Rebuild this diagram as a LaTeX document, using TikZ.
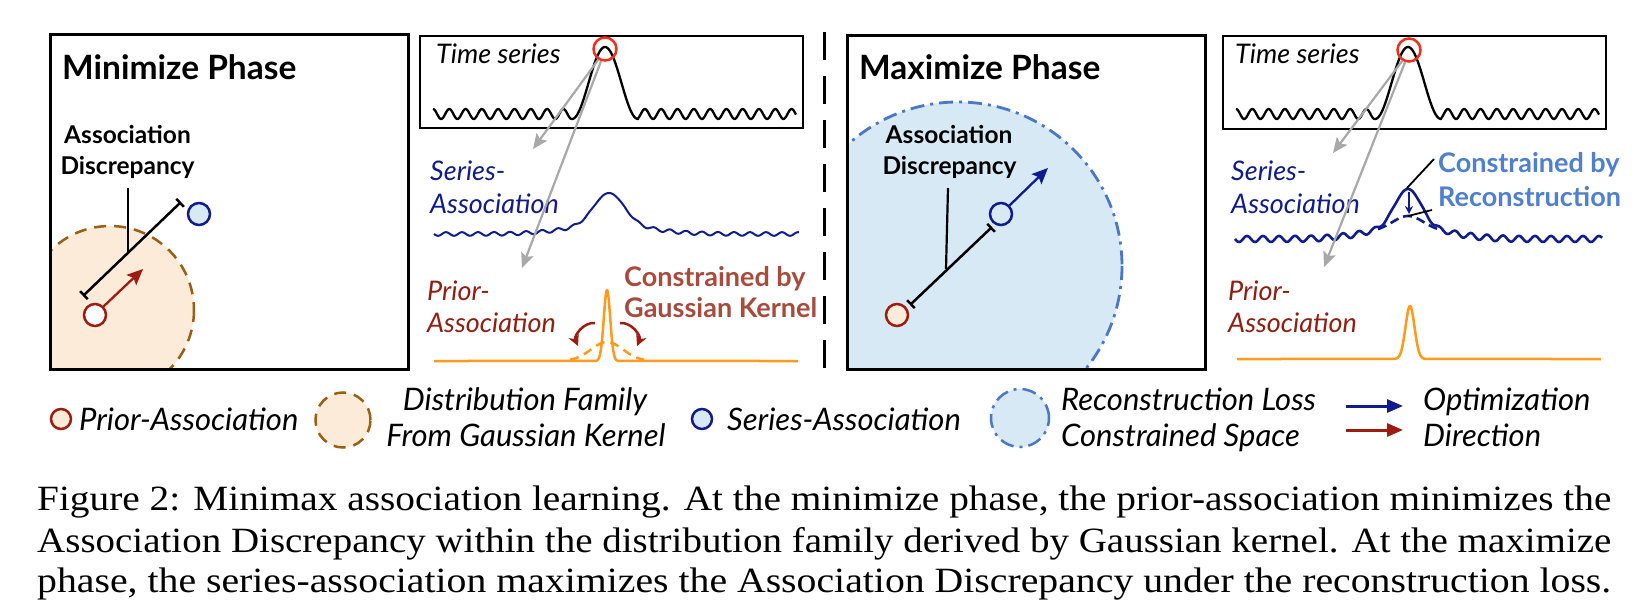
\documentclass[tikz,border=0pt]{standalone}
\usepackage{fontspec}
\usepackage{graphicx}
\setmainfont{Liberation Serif}
\newfontfamily\diag{Lato}
\usetikzlibrary{arrows.meta}
\definecolor{navy}{HTML}{101C8C}
\definecolor{dred}{HTML}{9E1B10}
\definecolor{tred}{HTML}{8E1F12}
\definecolor{lblue}{HTML}{D6E9F5}
\definecolor{peach}{HTML}{FCEBD9}
\definecolor{brownd}{HTML}{9A5F14}
\definecolor{dashblue}{HTML}{4A78C8}
\definecolor{orng}{HTML}{FF9A1A}
\definecolor{tsred}{HTML}{F0301A}
\definecolor{kred}{HTML}{A94B3C}
\definecolor{rblue}{HTML}{4F7FCF}
\definecolor{gry}{HTML}{A8A8A8}
\tikzset{
  declare function={gs(\t,\m,\s)=exp(-min(((\t-\m)/\s)^2/2,9));},
  phasebox/.style={draw=black,line width=3pt},
  tsbox/.style={draw=black,line width=2pt},
  phasetitle/.style={inner sep=0pt,anchor=base west,font=\diag\bfseries\fontsize{33.5}{38}\selectfont},
  adlbl/.style={inner sep=0pt,anchor=base,font=\diag\bfseries\fontsize{24.5}{28}\selectfont},
  itl/.style={inner sep=0pt,anchor=base west,font=\diag\itshape\fontsize{27}{31}\selectfont},
  cons/.style={inner sep=0pt,anchor=base west,font=\diag\bfseries\fontsize{27}{31}\selectfont},
  leg/.style={inner sep=0pt,anchor=base west,font=\diag\itshape\fontsize{31}{35}\selectfont},
  captext/.style={inner sep=0pt,anchor=base west,font=\fontsize{35.5}{40}\selectfont},
  graya/.style={draw=gry,line width=2.2pt,-{Stealth[length=15pt,width=13pt,inset=3pt]}},
  dbar/.style={line width=2.5pt,{Bar[width=11pt]}-{Bar[width=11pt]}},
  ptr/.style={line width=2.2pt},
  assocdot/.style={circle,inner sep=0pt,minimum size=22pt,line width=2.5pt},
  legdot/.style={circle,inner sep=0pt,minimum size=20pt,line width=2.5pt},
  bigleg/.style={circle,inner sep=0pt,line width=2.5pt},
  tsline/.style={line width=2.3pt,line join=round},
  kdash/.style={dash pattern=on 12pt off 8pt},
  rdash/.style={dash pattern=on 14pt off 6pt on 3pt off 6pt},
}
\newcommand{\capline}[1]{\resizebox{1574pt}{\height}{#1}}
\begin{document}
\begin{tikzpicture}[x=1pt,y=-1pt]
\useasboundingbox (0,0) rectangle (1647,615);
\fill[white] (0,0) rectangle (1647,615);

% ================= Minimize phase =================
\begin{scope}
  \clip (50,35) rectangle (408,369);
  \fill[peach] (110,310) circle (84);
  \draw[brownd,line width=2.5pt,kdash] (110,310) circle (84);
\end{scope}
\draw[phasebox] (50,35) rectangle (408,369);
\node[phasetitle] (mint) at (62,80) {Minimize Phase};
\node[adlbl] (mina1) at (127.5,144) {Association};
\node[adlbl] (mina2) at (127.5,175) {Discrepancy};
\coordinate (mind1) at (83,296);
\coordinate (mind2) at (181,202);
\draw[dbar] (mind1) -- (mind2);
\coordinate (minp1) at (128,188);
\coordinate (minp2) at (128,252);
\draw[ptr] (minp1) -- (minp2);
\node[assocdot,draw=navy,fill=lblue] (minser) at (199,214) {};
\node[assocdot,draw=dred,fill=white] (minpri) at (95,315) {};
\coordinate (minarr) at (143,269);
\draw[dred,line width=2.3pt,-{Stealth[length=16pt,width=14pt,inset=3pt]}] (minpri.45) -- (minarr);

% ================= left time series panel =================
\draw[tsbox] (420,36) rectangle (803,128);
\node[itl] (ts1) at (436,64) {Time series};
\draw[tsline] plot[domain=433:572,samples=160] (\x,{114-5*cos((\x-433)*22.0859)})
  -- plot[domain=572:638,samples=70] (\x,{119-36*(1+cos((\x-605)*5.4545))})
  -- plot[domain=638:796,samples=170] (\x,{114-5*cos((\x-433)*22.0859)});
\node[assocdot,draw=tsred,minimum size=23pt] (tsc1) at (605,49) {};
\node[itl,text=navy] (sa1a) at (430,180) {Series-};
\node[itl,text=navy] (sa1b) at (430,213) {Association};
\draw[navy,line width=2pt,line join=round] plot[domain=434:799,samples=400] (\x,{234-32*gs(\x,609,15)-9*gs(\x,609,40)+1.8*sin((\x-434)*22.5)*(1-gs(\x,609,22))});
\node[itl,text=tred] (pa1a) at (427,300) {Prior-};
\node[itl,text=tred] (pa1b) at (427,332) {Association};
\draw[orng,line width=2.5pt,line join=round] (434,361) -- plot[domain=588:626,samples=90] (\x,{361-71*gs(\x,607,3.2)}) -- (798,361);
\draw[orng,line width=2.5pt,dash pattern=on 9pt off 6pt] plot[domain=570:644,samples=60] (\x,{361-19*gs(\x,607,16)});
\coordinate (k1a) at (595,323);
\coordinate (k1b) at (578,346);
\coordinate (k2a) at (620,323);
\coordinate (k2b) at (637,346);
\draw[dred,line width=2.5pt,-{Stealth[length=11pt,width=11pt]}] (k1a) to[bend right=60] (k1b);
\draw[dred,line width=2.5pt,-{Stealth[length=11pt,width=11pt]}] (k2a) to[bend left=60] (k2b);
\node[cons,text=kred] (gk1) at (624,286) {Constrained by};
\node[cons,text=kred] (gk2) at (624,317) {Gaussian Kernel};
\coordinate (g1t) at (533,149);
\coordinate (g2t) at (522,268);
\draw[graya] (tsc1.238) -- (g1t);
\draw[graya] (tsc1.252) -- (g2t);

% separator
\coordinate (sepa) at (824,32);
\coordinate (sepb) at (824,370);
\draw[line width=3pt,dash pattern=on 28pt off 16pt] (sepa) -- (sepb);

% ================= Maximize phase =================
\begin{scope}
  \clip (847,36) rectangle (1205,369);
  \fill[lblue] (958,266) circle (164);
  \draw[dashblue,line width=2.8pt,rdash] (958,266) circle (164);
\end{scope}
\draw[phasebox] (847,36) rectangle (1205,369);
\node[phasetitle] (maxt) at (859,80) {Maximize Phase};
\node[adlbl] (maxa1) at (949,144) {Association};
\node[adlbl] (maxa2) at (949.5,175) {Discrepancy};
\coordinate (maxd1) at (910,305);
\coordinate (maxd2) at (992,227);
\draw[dbar] (maxd1) -- (maxd2);
\coordinate (maxp1) at (948,188);
\coordinate (maxp2) at (946,269);
\draw[ptr] (maxp1) -- (maxp2);
\node[assocdot,draw=dred,fill=peach] (maxpri) at (897,315) {};
\node[assocdot,draw=navy,fill=lblue] (maxser) at (1001,214) {};
\coordinate (maxarr) at (1048,168);
\draw[navy,line width=2.3pt,-{Stealth[length=16pt,width=14pt,inset=3pt]}] (maxser.45) -- (maxarr);

% ================= right time series panel =================
\draw[tsbox] (1223,36) rectangle (1606,129);
\node[itl] (ts2) at (1235,64) {Time series};
\draw[tsline] plot[domain=1236:1375,samples=160] (\x,{114-5*cos((\x-1236)*22.0859)})
  -- plot[domain=1375:1441,samples=70] (\x,{119-36*(1+cos((\x-1408)*5.4545))})
  -- plot[domain=1441:1599,samples=170] (\x,{114-5*cos((\x-1236)*22.0859)});
\node[assocdot,draw=tsred,minimum size=23pt] (tsc2) at (1409,50) {};
\node[itl,text=navy] (sa2a) at (1231,180) {Series-};
\node[itl,text=navy] (sa2b) at (1231,213) {Association};
\draw[navy,line width=2.6pt,line join=round] plot[domain=1235:1602,samples=420] (\x,{239-38*gs(\x,1408,13)-12*gs(\x,1408,38)+3*sin((\x-1235)*22.5)*(1-gs(\x,1408,22))});
\draw[navy,line width=2.6pt,dash pattern=on 9pt off 5pt] plot[domain=1378:1440,samples=60] (\x,{239-12*gs(\x,1408,38)-11*gs(\x,1408,14)});
\coordinate (rb1) at (1409,192);
\coordinate (rb2) at (1409,214);
\draw[navy,line width=2.2pt,-{Stealth[length=8pt,width=8pt]}] (rb1) -- (rb2);
\coordinate (rl1a) at (1434,159);
\coordinate (rl1b) at (1407,188);
\coordinate (rl2a) at (1432,210);
\coordinate (rl2b) at (1408,216);
\draw[ptr,line width=1.8pt] (rl1a) -- (rl1b);
\draw[ptr,line width=1.8pt] (rl2a) -- (rl2b);
\node[cons,text=rblue] (rc1) at (1438,173) {Constrained by};
\node[cons,text=rblue] (rc2) at (1438,206) {Reconstruction};
\node[itl,text=tred] (pa2a) at (1228,300) {Prior-};
\node[itl,text=tred] (pa2b) at (1228,332) {Association};
\draw[orng,line width=2.5pt,line join=round] (1237,359) -- plot[domain=1385:1435,samples=90] (\x,{359-53*gs(\x,1410,4.5)}) -- (1601,359);
\coordinate (g3t) at (1333,153);
\coordinate (g4t) at (1324,267);
\draw[graya] (tsc2.238) -- (g3t);
\draw[graya] (tsc2.252) -- (g4t);

% ================= legend =================
\node[legdot,draw=dred,fill=peach] (lg1) at (61,419) {};
\node[leg] (lg1t) at (79,430) {Prior-Association};
\node[bigleg,minimum size=55pt,draw=brownd,fill=peach,kdash] (lg2) at (343,420) {};
\node[leg,anchor=base] (lg2a) at (525,410) {Distribution Family};
\node[leg,anchor=base] (lg2b) at (526,446) {From Gaussian Kernel};
\node[legdot,draw=navy,fill=lblue] (lg3) at (702,419) {};
\node[leg] (lg3t) at (727,430) {Series-Association};
\node[bigleg,minimum size=58pt,draw=dashblue,fill=lblue,rdash] (lg4) at (1020,418) {};
\node[leg] (lg4a) at (1061,410) {Reconstruction Loss};
\node[leg] (lg4b) at (1061,446) {Constrained Space};
\coordinate (la1) at (1346,406);
\coordinate (la2) at (1403,406);
\coordinate (la3) at (1346,430);
\coordinate (la4) at (1403,430);
\draw[navy,line width=3pt,-{Triangle[length=16pt,width=13pt]}] (la1) -- (la2);
\draw[dred,line width=3pt,-{Triangle[length=16pt,width=13pt]}] (la3) -- (la4);
\node[leg] (lg5a) at (1423,410) {Optimization};
\node[leg] (lg5b) at (1423,446) {Direction};

% ================= caption =================
\node[captext] (cp1) at (37,510) {\capline{Figure 2: Minimax association learning. At the minimize phase, the prior-association minimizes the}};
\node[captext] (cp2) at (37,552) {\capline{Association Discrepancy within the distribution family derived by Gaussian kernel. At the maximize}};
\node[captext] (cp3) at (37,592) {\capline{phase, the series-association maximizes the Association Discrepancy under the reconstruction loss.}};
\end{tikzpicture}
\end{document}
